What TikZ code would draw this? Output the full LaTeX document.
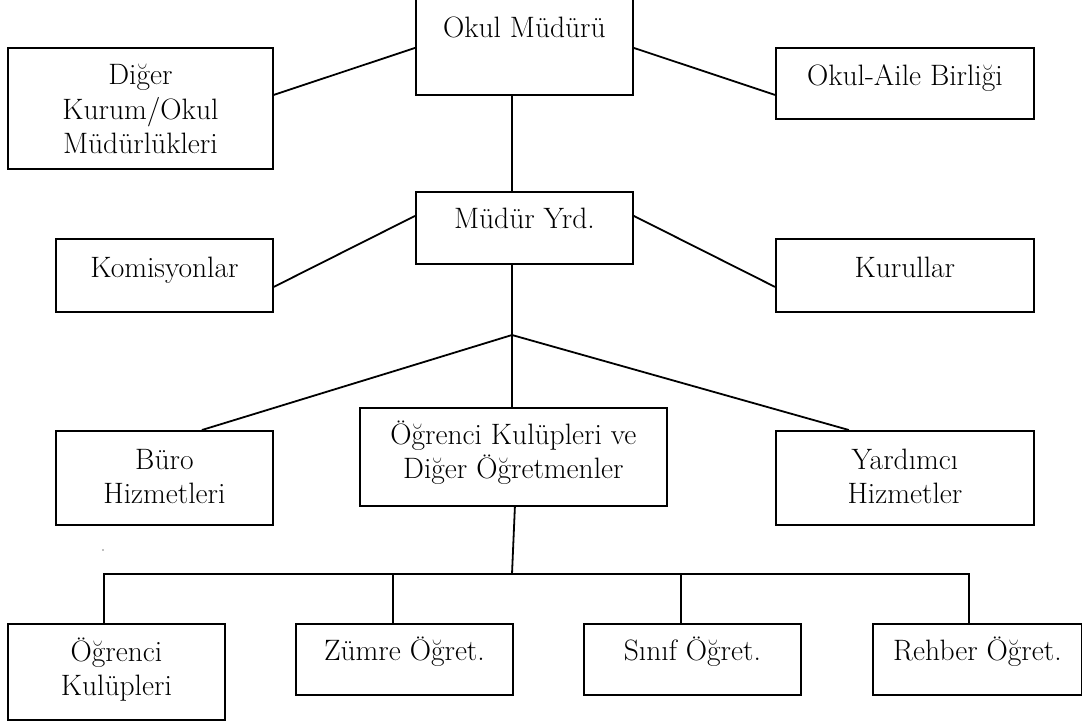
\documentclass[tikz,border=0pt]{standalone}
\usepackage{fontspec}
\usepackage{tikz}

\begin{document}
\begin{tikzpicture}[x=1pt, y=-1pt, line width=1.8pt,
  every node/.style={font=\fontsize{29.5}{34.5}\selectfont},
  kutu/.style n args={3}{draw, inner sep=0pt, align=center, anchor=north west,
    minimum width=#1, text height=#2, text depth=#3}]

\useasboundingbox (0,0) rectangle (1082,724);

\node[kutu={217pt}{47pt}{57pt}] (om) at (415,-10) {Okul Müdürü};
\node[kutu={265pt}{106pt}{15pt}] (dk) at (7,47) {Diğer\\Kurum/Okul\\Müdürlükleri};
\node[kutu={258pt}{38pt}{33pt}] (oab) at (775,47) {Okul-Aile Birliği};

\node[kutu={217pt}{37pt}{35pt}] (my) at (415,191) {Müdür Yrd.};
\node[kutu={217pt}{39pt}{34pt}] (kom) at (55,238) {Komisyonlar};
\node[kutu={258pt}{39pt}{34pt}] (kur) at (775,238) {Kurullar};

\node[kutu={217pt}{73pt}{21pt}] (buro) at (55,430) {Büro\\Hizmetleri};
\node[kutu={307pt}{71pt}{27pt}] (okd) at (359,407) {Öğrenci Kulüpleri ve\\Diğer Öğretmenler};
\node[kutu={258pt}{73pt}{21pt}] (yh) at (775,430) {Yardımcı\\Hizmetler};

\node[kutu={217pt}{72pt}{24pt}] (ok) at (7,623) {Öğrenci\\Kulüpleri};
\node[kutu={217pt}{37pt}{34pt}] (zo) at (295,623) {Zümre Öğret.};
\node[kutu={217pt}{37pt}{34pt}] (si) at (583,623) {Sınıf Öğret.};
\node[kutu={209pt}{37pt}{34pt}] (re) at (872,623) {Rehber Öğret.};

\coordinate (j) at (512,335);
\coordinate (bus) at (512,574);

\draw ([yshift=13.5pt]dk.east) -- ([yshift=-5pt]om.west);
\draw ([yshift=-5pt]om.east) -- ([yshift=-11.5pt]oab.west);
\draw (om.south -| j) -- (my.north -| j);

\draw ([yshift=12pt]my.west) -- ([yshift=-11.5pt]kom.east);
\draw ([yshift=12pt]my.east) -- ([yshift=-11.5pt]kur.west);
\draw (my.south -| j) -- (j);

\draw (j) -- ([xshift=37.5pt]buro.north);
\draw (j) -- (okd.north -| j);
\draw (j) -- ([xshift=-56pt]yh.north);

\draw ([xshift=1.5pt]okd.south) -- (bus);
\draw ([xshift=-12.5pt]ok.north) |- (bus) -| ([xshift=-8.5pt]re.north);
\draw ([xshift=-11.5pt]zo.north) -- ++(0,-49);
\draw ([xshift=-11.5pt]si.north) -- ++(0,-49);

\fill[gray] (103,550) circle (0.8pt);

\end{tikzpicture}
\end{document}
